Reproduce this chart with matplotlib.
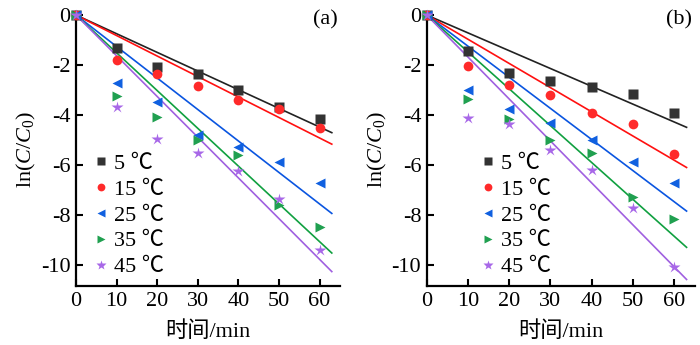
import matplotlib
import numpy as np

matplotlib.use("Agg")
import matplotlib.pyplot as plt  # noqa: E402
from matplotlib.lines import Line2D  # noqa: E402

plt.rcParams["font.family"] = ["Liberation Serif", "Noto Sans CJK SC"]
plt.rcParams["mathtext.fontset"] = "custom"
plt.rcParams["mathtext.rm"] = "Liberation Serif"
plt.rcParams["mathtext.it"] = "Liberation Serif:italic"

# sampling times (min) and ln(C/C0) per temperature
t = np.array([0, 10, 20, 30, 40, 50, 60])
temps = ["5 ℃", "15 ℃", "25 ℃", "35 ℃", "45 ℃"]

lnc_a = [
    [0, -1.33, -2.07, -2.36, -3.00, -3.69, -4.17],
    [0, -1.80, -2.36, -2.84, -3.40, -3.77, -4.53],
    [0, -2.71, -3.47, -4.80, -5.27, -5.87, -6.71],
    [0, -3.24, -4.09, -5.00, -5.60, -7.60, -8.47],
    [0, -3.69, -4.97, -5.53, -6.23, -7.37, -9.40],
]
lnc_b = [
    [0, -1.43, -2.32, -2.64, -2.88, -3.18, -3.92],
    [0, -2.02, -2.80, -3.21, -3.92, -4.35, -5.58],
    [0, -3.01, -3.75, -4.32, -5.02, -5.89, -6.73],
    [0, -3.35, -4.15, -5.02, -5.53, -7.30, -8.17],
    [0, -4.11, -4.35, -5.39, -6.22, -7.72, -10.08],
]

MARKERS = ["s", "o", "<", ">", "*"]
MSIZE = [6.5, 7, 7.5, 7.5, 9]
PT_COLORS = ["#333333", "#ff2a2a", "#1060e0", "#20a050", "#a868e8"]
LN_COLORS = ["#222222", "#ff1010", "#0a55e0", "#10a040", "#a060e0"]
FS = 16


def _panel(ax, data, tag, leg_x):
    tfit = np.linspace(0, 63, 2)
    for i, y in enumerate(data):
        y = np.asarray(y)
        # first-order fit through the origin: ln(C/C0) = -k t
        k = np.sum(t * y) / np.sum(t * t)
        ax.plot(tfit, k * tfit, color=LN_COLORS[i], lw=1.2, zorder=2)
        ax.plot(t, y, ls="", marker=MARKERS[i], ms=MSIZE[i], color=PT_COLORS[i],
                mec="none", clip_on=False, zorder=3)
    ax.set_xlim(0, 65)
    ax.set_ylim(-10.85, 0.12)
    ax.set_xticks([0, 10, 20, 30, 40, 50, 60])
    ax.set_yticks([0, -2, -4, -6, -8, -10])
    ax.set_yticklabels(["0", "-2", "-4", "-6", "-8", "-10"])
    ax.tick_params(direction="in", length=5, width=1.5, labelsize=FS, pad=4)
    for sp in ["top", "right"]:
        ax.spines[sp].set_visible(False)
    for sp in ["left", "bottom"]:
        ax.spines[sp].set_linewidth(1.6)
    ax.set_xlabel("时间/min", fontsize=FS, labelpad=8)
    ax.set_ylabel(r"ln($C$/$C_0$)", fontsize=FS, labelpad=2)
    ax.text(0.99, 0.97, tag, transform=ax.transAxes, ha="right", va="center", fontsize=FS)
    handles = [Line2D([0], [0], ls="", marker=MARKERS[i], ms=MSIZE[i] * 0.8,
                      color=PT_COLORS[i], mec="none") for i in range(len(temps))]
    ax.legend(handles, temps, loc="lower left", bbox_to_anchor=(leg_x, -0.025),
              frameon=False, handlelength=0.6, handletextpad=0.3,
              labelspacing=0.24, borderaxespad=0.3,
              prop={"family": ["Liberation Serif", "Noto Sans CJK SC"], "size": FS})


fig = plt.figure(figsize=(7, 3.45), dpi=100)
ax_a = fig.add_axes([0.1086, 0.171, 0.377, 0.794])
ax_b = fig.add_axes([0.6096, 0.171, 0.383, 0.794])
_panel(ax_a, lnc_a, "(a)", 0.01)
_panel(ax_b, lnc_b, "(b)", 0.145)
fig.savefig("out.png", dpi=100)
